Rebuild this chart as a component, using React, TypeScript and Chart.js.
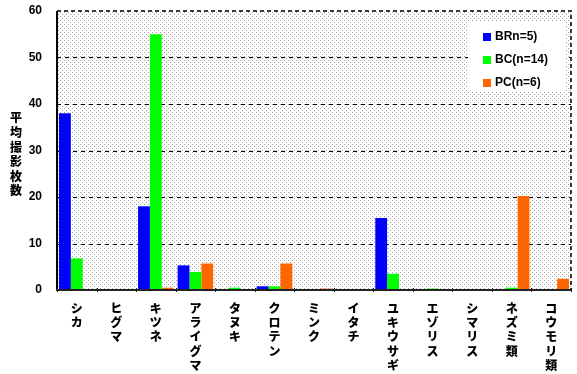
import React, { useEffect, useRef } from 'react';
import { Chart, registerables } from 'chart.js';

Chart.register(...registerables);

const categories = ['シカ', 'ヒグマ', 'キツネ', 'アライグマ', 'タヌキ', 'クロテン', 'ミンク', 'イタチ', 'ユキウサギ', 'エゾリス', 'シマリス', 'ネズミ類', 'コウモリ類'];
const seriesLabels = ['BRn=5)', 'BC(n=14)', 'PC(n=6)'];
const brValues = [38, 0, 18, 5.3, 0, 0.8, 0, 0, 15.5, 0, 0, 0, 0];
const bcValues = [6.8, 0, 55, 3.9, 0.5, 0.8, 0, 0, 3.5, 0.3, 0, 0.5, 0];
const pcValues = [0, 0, 0.5, 5.7, 0, 5.7, 0.3, 0, 0, 0, 0, 20.2, 2.4];
const seriesColors = ['#0000FF', '#00FF00', '#FF6600'];
const yTicks = [0, 10, 20, 30, 40, 50, 60];
const yTitle = '平均撮影枚数';

const FONT = "'Liberation Sans', Arial, 'Noto Sans CJK JP', sans-serif";

function makePattern(ctx: CanvasRenderingContext2D) {
  const c = document.createElement('canvas');
  c.width = 4;
  c.height = 4;
  const g = c.getContext('2d')!;
  g.fillStyle = '#ffffff';
  g.fillRect(0, 0, 4, 4);
  g.fillStyle = '#a4a4a4';
  g.fillRect(0, 0, 1, 1);
  g.fillRect(2, 2, 1, 1);
  return ctx.createPattern(c, 'repeat');
}

const framePlugin = {
  id: 'frame',
  beforeDatasetsDraw(chart: any) {
    const { ctx, chartArea: a, scales } = chart;
    const y = scales.y;
    ctx.save();
    const p = makePattern(ctx);
    if (p) ctx.fillStyle = p;
    ctx.fillRect(a.left, a.top, a.right - a.left, a.bottom - a.top);
    ctx.strokeStyle = '#000';
    ctx.lineWidth = 1;
    ctx.setLineDash([4, 4]);
    yTicks.slice(1, -1).forEach((t) => {
      const py = Math.round(y.getPixelForValue(t)) + 0.5;
      ctx.beginPath();
      ctx.moveTo(a.left, py);
      ctx.lineTo(a.right, py);
      ctx.stroke();
    });
    ctx.strokeStyle = '#3a3a3a';
    ctx.lineWidth = 2;
    ctx.setLineDash([4, 3]);
    ctx.beginPath();
    ctx.moveTo(a.left, a.top);
    ctx.lineTo(a.right, a.top);
    ctx.lineTo(a.right, a.bottom);
    ctx.stroke();
    ctx.setLineDash([]);
    ctx.strokeStyle = '#000';
    ctx.lineWidth = 2;
    ctx.beginPath();
    ctx.moveTo(a.left, a.top);
    ctx.lineTo(a.left, a.bottom);
    ctx.stroke();
    ctx.restore();
  },
  afterDatasetsDraw(chart: any) {
    const { ctx, chartArea: a } = chart;
    ctx.save();
    ctx.strokeStyle = '#222';
    ctx.lineWidth = 2;
    ctx.beginPath();
    ctx.moveTo(a.left - 1, a.bottom);
    ctx.lineTo(a.right, a.bottom);
    ctx.stroke();
    const n = categories.length;
    const w = (a.right - a.left) / n;
    ctx.lineWidth = 1;
    for (let i = 0; i <= n; i++) {
      const px = Math.round(a.left + i * w) + 0.5;
      ctx.beginPath();
      ctx.moveTo(px, a.bottom - 2);
      ctx.lineTo(px, a.bottom + 2);
      ctx.stroke();
    }
    ctx.restore();
  },
  afterDraw(chart: any) {
    const { ctx, chartArea: a } = chart;
    ctx.save();
    // y title, stacked characters
    ctx.fillStyle = '#000';
    ctx.font = `900 12px ${FONT}`;
    ctx.textAlign = 'center';
    ctx.textBaseline = 'middle';
    const chars = Array.from(yTitle);
    chars.forEach((ch, i) => {
      ctx.fillText(ch, 16, 119 + i * 14.6);
    });
    // legend
    const bx = a.right - 103;
    const by = a.top + 10;
    ctx.fillStyle = '#ffffff';
    ctx.fillRect(bx, by, 98, 71);
    ctx.font = `bold 12px ${FONT}`;
    ctx.textAlign = 'left';
    chart.data.datasets.forEach((ds: any, i: number) => {
      const cy = by + 16 + i * 23;
      ctx.fillStyle = ds.backgroundColor;
      ctx.fillRect(bx + 15, cy - 4, 8, 8);
      ctx.fillStyle = '#000';
      ctx.fillText(ds.label, bx + 27, cy);
    });
    ctx.restore();
  },
};

export default function App() {
  const ref = useRef<HTMLCanvasElement>(null);
  useEffect(() => {
    if (!ref.current) return;
    const chart = new Chart(ref.current, {
      type: 'bar',
      data: {
        labels: categories.map((c) => Array.from(c)),
        datasets: [
          { label: seriesLabels[0], data: brValues, backgroundColor: seriesColors[0] },
          { label: seriesLabels[1], data: bcValues, backgroundColor: seriesColors[1] },
          { label: seriesLabels[2], data: pcValues, backgroundColor: seriesColors[2] },
        ],
      },
      options: {
        animation: false,
        responsive: true,
        maintainAspectRatio: false,
        layout: { padding: { top: 11, right: 6, left: 0, bottom: 0 } },
        datasets: { bar: { categoryPercentage: 0.9, barPercentage: 1 } },
        plugins: { legend: { display: false }, tooltip: { enabled: false } },
        scales: {
          x: {
            grid: { display: false, drawTicks: false },
            border: { display: false },
            ticks: {
              color: '#000',
              font: { family: FONT, size: 12, weight: '900', lineHeight: 1.2 },
              maxRotation: 0,
              minRotation: 0,
              autoSkip: false,
              padding: 12,
            },
            afterFit: (s: any) => {
              s.height = 84;
            },
          },
          y: {
            min: 0,
            max: 60,
            grid: { display: false, drawTicks: false },
            border: { display: false },
            ticks: {
              stepSize: 10,
              color: '#000',
              font: { family: FONT, size: 12, weight: 'bold' },
              padding: 15,
            },
            afterFit: (s: any) => {
              s.width = 57;
              s.paddingTop = 0;
              s.paddingBottom = 0;
            },
          },
        },
      },
      plugins: [framePlugin],
    } as any);
    return () => chart.destroy();
  }, []);
  return (
    <div style={{ position: 'absolute', left: 0, top: 0, width: 577, height: 374 }}>
      <canvas ref={ref} />
    </div>
  );
}
